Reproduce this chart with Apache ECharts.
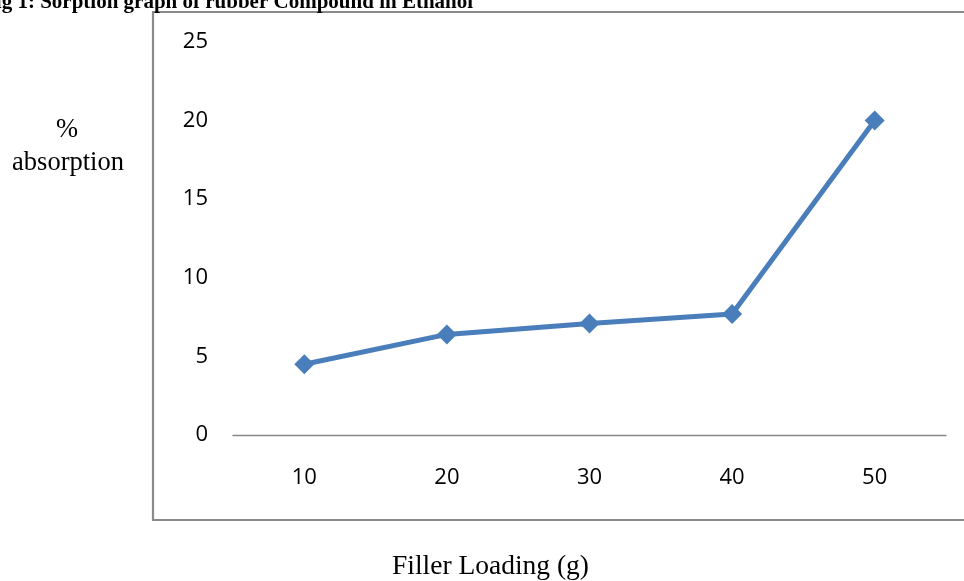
<!DOCTYPE html>
<html>
<head>
<meta charset="utf-8">
<script src="https://cdn.jsdelivr.net/npm/echarts@6/dist/echarts.min.js"></script>
<style>
  html, body { margin: 0; padding: 0; background: #fff; }
  #chart { width: 964px; height: 581px; }
</style>
</head>
<body>
<div id="chart"></div>
<script>
// Filler loading (g) and percentage absorption in ethanol
const fillerLoading = ['10', '20', '30', '40', '50'];
const absorption = [4.5, 6.4, 7.1, 7.7, 20];
const yTicks = { min: 0, max: 25, interval: 5 };

const chart = echarts.init(document.getElementById('chart'), null, { renderer: 'canvas' });

chart.setOption({
  animation: false,
  backgroundColor: '#ffffff',
  grid: { left: 233, right: 18, top: 42, bottom: 146, containLabel: false, outerBoundsMode: 'none' },
  xAxis: {
    type: 'category',
    data: fillerLoading,
    boundaryGap: true,
    axisLine: { show: true, lineStyle: { color: '#868686', width: 1.3 } },
    axisTick: { show: false },
    axisLabel: { margin: 32, fontFamily: 'Open Sans', fontSize: 22, color: '#000' },
    name: 'Filler Loading (g)',
    nameLocation: 'middle',
    nameGap: 118,
    // shift the axis title left of the plot centre
    nameTextStyle: { fontFamily: 'Liberation Serif', fontSize: 27.5, color: '#000', padding: [0, 198, 0, 0] }
  },
  yAxis: {
    type: 'value',
    min: yTicks.min,
    max: yTicks.max,
    interval: yTicks.interval,
    axisLine: { show: false },
    axisTick: { show: false },
    splitLine: { show: false },
    axisLabel: { margin: 25, fontFamily: 'Open Sans', fontSize: 22, color: '#000' }
  },
  graphic: [
    {
      type: 'polyline',
      shape: { points: [[964, 12], [153, 12], [153, 520], [964, 520]] },
      style: { stroke: '#8a8a8a', lineWidth: 2.2, fill: null },
      silent: true
    },
    {
      type: 'text',
      x: 67, y: 130,
      style: { text: '%', font: '26.5px "Liberation Serif"', fill: '#000', align: 'center', verticalAlign: 'middle' }
    },
    {
      type: 'text',
      x: 68, y: 163,
      style: { text: 'absorption', font: '26.5px "Liberation Serif"', fill: '#000', align: 'center', verticalAlign: 'middle' }
    },
    {
      type: 'text',
      x: -17, y: 13,
      style: { text: 'Fig 1: Sorption graph of rubber Compound in Ethanol', font: 'bold 21px "Liberation Serif"', fill: '#000', align: 'left', verticalAlign: 'bottom' }
    }
  ],
  series: [{
    type: 'line',
    data: absorption,
    symbol: 'diamond',
    symbolSize: 20,
    lineStyle: { color: '#4a7ebb', width: 5 },
    itemStyle: { color: '#4a7ebb' }
  }]
});
</script>
</body>
</html>
